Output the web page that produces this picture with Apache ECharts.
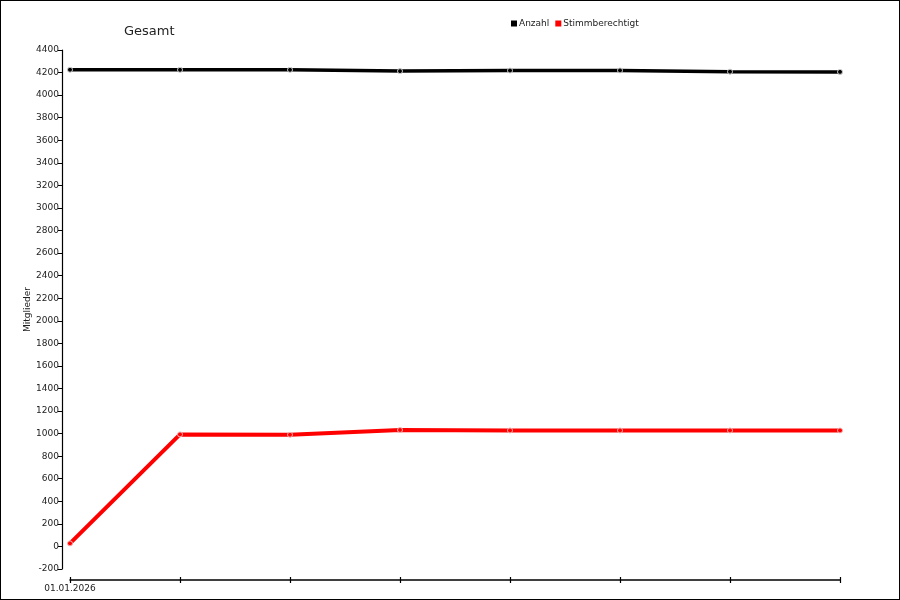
<!DOCTYPE html>
<html>
<head>
<meta charset="utf-8">
<script src="https://cdn.jsdelivr.net/npm/echarts@6/dist/echarts.min.js"></script>
<style>
html,body{margin:0;padding:0;background:#fff;}
#frame{width:900px;height:600px;box-sizing:border-box;border:1px solid #000;}
#chart{width:898px;height:598px;}
</style>
</head>
<body>
<div id="frame"><div id="chart"></div></div>
<script>
var categories = ["01.01.2026", "", "", "", "", "", "", ""];
var anzahl = [4225, 4224, 4224, 4213, 4218, 4219, 4208, 4206];
var stimmberechtigt = [27, 993, 990, 1032, 1028, 1028, 1028, 1028];
var yMin = -200, yMax = 4400, yStep = 200;

var font = 'DejaVu Sans';
var chart = echarts.init(document.getElementById('chart'));
chart.setOption({
  animation: false,
  backgroundColor: '#fff',
  textStyle: {fontFamily: font},
  title: {
    text: 'Gesamt', left: 123, top: 24, padding: 0,
    textStyle: {fontFamily: font, fontSize: 13, fontWeight: 'normal', color: '#222'}
  },
  legend: {
    left: 510, top: 18, padding: 0, icon: 'rect', itemWidth: 6, itemHeight: 6, itemGap: 6,
    textStyle: {fontFamily: font, fontSize: 9, color: '#222', padding: [0,0,0,-3]},
    data: [
      {name: 'Anzahl', itemStyle: {color: '#000', borderWidth: 0}},
      {name: 'Stimmberechtigt', itemStyle: {color: '#ff0000', borderWidth: 0}}
    ]
  },
  grid: {left: 69, right: 59, top: 49, bottom: 30, containLabel: false},
  xAxis: [{
    type: 'category', data: categories, boundaryGap: false, position: 'bottom', offset: 11,
    axisLine: {onZero: false, lineStyle: {color: '#000', width: 1.5}},
    axisTick: {show: true, length: 3, lineStyle: {color: '#000', width: 1.2}, alignWithLabel: true},
    axisLabel: {fontFamily: font, fontSize: 9, color: '#222', margin: 4, interval: 0},
    splitLine: {show: false}
  }, {
    type: 'category', data: categories, boundaryGap: false, position: 'bottom', offset: 11,
    axisLine: {show: false, onZero: false},
    axisTick: {show: true, inside: true, length: 3, lineStyle: {color: '#000', width: 1.2}},
    axisLabel: {show: false},
    splitLine: {show: false}
  }],
  yAxis: {
    type: 'value', min: yMin, max: yMax, interval: yStep, offset: 8,
    name: 'Mitglieder', nameLocation: 'middle', nameGap: 30, nameRotate: 90,
    nameMoveOverlap: false,
    nameTextStyle: {fontFamily: font, fontSize: 9, color: '#222'},
    axisLine: {show: true, lineStyle: {color: '#000', width: 1.2}},
    axisTick: {show: true, length: 4, lineStyle: {color: '#000', width: 1}},
    axisLabel: {fontFamily: font, fontSize: 9, color: '#222', margin: 3,
      formatter: function (v) { return String(v); }},
    splitLine: {show: false}
  },
  series: [{
    name: 'Anzahl', type: 'line', data: anzahl,
    symbol: 'circle', symbolSize: 5,
    lineStyle: {color: '#000', width: 3.5},
    itemStyle: {color: '#000', borderColor: '#cfcfcf', borderWidth: 1}
  }, {
    name: 'Stimmberechtigt', type: 'line', data: stimmberechtigt,
    symbol: 'circle', symbolSize: 5,
    lineStyle: {color: '#ff0000', width: 4},
    itemStyle: {color: '#ff0000', borderColor: '#f6b8b8', borderWidth: 1}
  }]
});
</script>
</body>
</html>
